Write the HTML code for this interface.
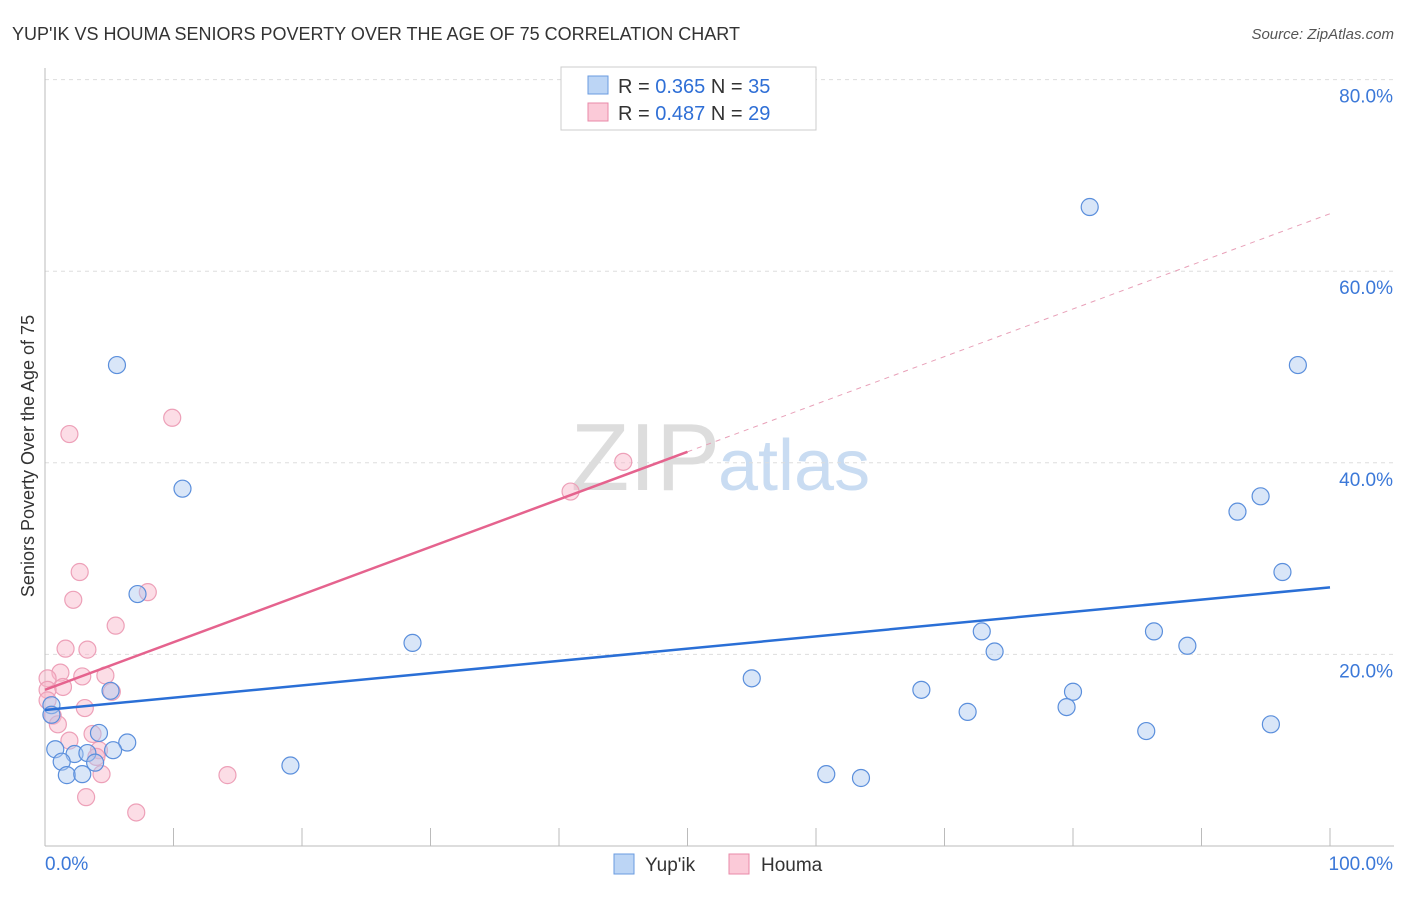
<!DOCTYPE html>
<html><head><meta charset="utf-8"><style>
body{margin:0;background:#fff;font-family:"Liberation Sans",sans-serif;}
svg text{font-family:"Liberation Sans",sans-serif;}
</style></head><body>
<svg id="c" width="1406" height="892">
<text x="12" y="40" font-size="18" fill="#333">YUP'IK VS HOUMA SENIORS POVERTY OVER THE AGE OF 75 CORRELATION CHART</text>
<text x="1394" y="39" font-size="15" fill="#555" font-style="italic" text-anchor="end">Source: ZipAtlas.com</text>
<text x="720" y="490" font-size="96" fill="#ddd" font-family="Liberation Serif" text-anchor="end">ZIP</text>
<text x="718" y="490" font-size="72" fill="#c9dcf2">atlas</text>
<text transform="translate(34,456) rotate(-90)" font-size="18" fill="#333" text-anchor="middle">Seniors Poverty Over the Age of 75</text>
<g id="grid"></g><g id="marks"></g>
<g>
<rect x="561" y="67" width="255" height="63" fill="#fff" stroke="#ccc"/>
<rect x="588" y="76" width="20" height="18" fill="#bcd5f5" stroke="#6a9be0"/>
<text x="618" y="93" font-size="20" fill="#333">R = <tspan fill="#2f6fd6">0.365</tspan>   N = <tspan fill="#2f6fd6">35</tspan></text>
<rect x="588" y="103" width="20" height="18" fill="#fbcad8" stroke="#e88aa8"/>
<text x="618" y="120" font-size="20" fill="#333">R = <tspan fill="#2f6fd6">0.487</tspan>   N = <tspan fill="#2f6fd6">29</tspan></text>
</g>
<g>
<rect x="614" y="854" width="20" height="20" fill="#bcd5f5" stroke="#6a9be0"/>
<text x="645" y="871" font-size="19" fill="#333">Yup'ik</text>
<rect x="729" y="854" width="20" height="20" fill="#fbcad8" stroke="#e88aa8"/>
<text x="761" y="871" font-size="19" fill="#333">Houma</text>
</g>
</svg>
<script>
const yupikX=[5.6,10.7,7.2,28.6,5.1,4.2,6.4,0.8,2.3,3.3,5.3,1.3,3.9,1.7,2.9,19.1,0.5,0.5,81.3,97.5,94.6,92.8,96.3,72.9,86.3,88.9,73.9,55.0,68.2,80.0,71.8,79.5,85.7,95.4,60.8,63.5];
const yupikY=[50.2,37.3,26.3,21.2,16.2,11.8,10.8,10.1,9.6,9.7,10.0,8.8,8.7,7.4,7.5,8.4,14.7,13.7,66.7,50.2,36.5,34.9,28.6,22.4,22.4,20.9,20.3,17.5,16.3,16.1,14.0,14.5,12.0,12.7,7.5,7.1];
const houmaX=[1.9,9.9,45.0,40.9,2.7,8.0,2.2,5.5,1.6,3.3,1.2,2.9,4.7,0.2,1.4,0.2,5.2,3.1,0.6,1.0,3.7,1.9,4.2,4.0,4.4,14.2,3.2,7.1,0.2];
const houmaY=[43.0,44.7,40.1,37.0,28.6,26.5,25.7,23.0,20.6,20.5,18.1,17.7,17.8,17.5,16.6,16.3,16.1,14.4,13.6,12.7,11.7,11.0,10.0,9.3,7.5,7.4,5.1,3.5,15.2];
const yupikTrend=[14.2,27.0];
const houmaTrend=[16.3,66.0];
const yTicks=[20,40,60,80];
const yTickLabels=["20.0%","40.0%","60.0%","80.0%"];
const xTicks=[0,10,20,30,40,50,60,70,80,90,100];
const NS="http://www.w3.org/2000/svg";
const sx=v=>45+v*12.85, sy=v=>846-v*9.58;
function mk(t,a,p){const e=document.createElementNS(NS,t);for(const k in a)e.setAttribute(k,a[k]);p.appendChild(e);return e;}
const g=document.getElementById('grid'),m=document.getElementById('marks');
yTicks.forEach((t,i)=>{
 const l=mk('line',{x1:45,x2:1394,y1:sy(t),y2:sy(t),stroke:'#ddd','stroke-dasharray':'4,4'},g);
 
 
 const tx=mk('text',{x:1393,y:sy(t)+23,'font-size':19,fill:'#3b78d8','text-anchor':'end'},g);
 tx.textContent=yTickLabels[i];
 
 
});
const ax=mk('line',{x1:45,x2:45,y1:68,y2:846,stroke:'#bbb'},g);


const bx=mk('line',{x1:45,x2:1394,y1:846,y2:846,stroke:'#bbb'},g);


xTicks.forEach(t=>{const l=mk('line',{x1:sx(t),x2:sx(t),y1:828,y2:846,stroke:'#bbb'},g);
 
 });
const x0=mk('text',{x:45,y:870,'font-size':19,fill:'#3b78d8'},g);x0.textContent='0.0%';


const x1=mk('text',{x:1393,y:870,'font-size':19,fill:'#3b78d8','text-anchor':'end'},g);x1.textContent='100.0%';


houmaX.forEach((x,i)=>{const c=mk('circle',{cx:sx(x),cy:sy(houmaY[i]),r:8.5,fill:'rgba(248,180,200,0.45)',stroke:'#eda0b8','stroke-width':1.2},m);
 
 });
yupikX.forEach((x,i)=>{const c=mk('circle',{cx:sx(x),cy:sy(yupikY[i]),r:8.5,fill:'rgba(170,200,240,0.45)',stroke:'#5b8fdc','stroke-width':1.2},m);
 
 });
const hy=x=>houmaTrend[0]+(houmaTrend[1]-houmaTrend[0])*x/100;
const hd=mk('line',{x1:sx(50),y1:sy(hy(50)),x2:sx(100),y2:sy(hy(100)),stroke:'#e8a0b8','stroke-dasharray':'5,5'},m);


const hl=mk('line',{x1:sx(0),y1:sy(hy(0)),x2:sx(50),y2:sy(hy(50)),stroke:'#e5638e','stroke-width':2.5},m);


const yl=mk('line',{x1:sx(0),y1:sy(yupikTrend[0]),x2:sx(100),y2:sy(yupikTrend[1]),stroke:'#2a6fd6','stroke-width':2.5},m);


</script>
</body></html>
